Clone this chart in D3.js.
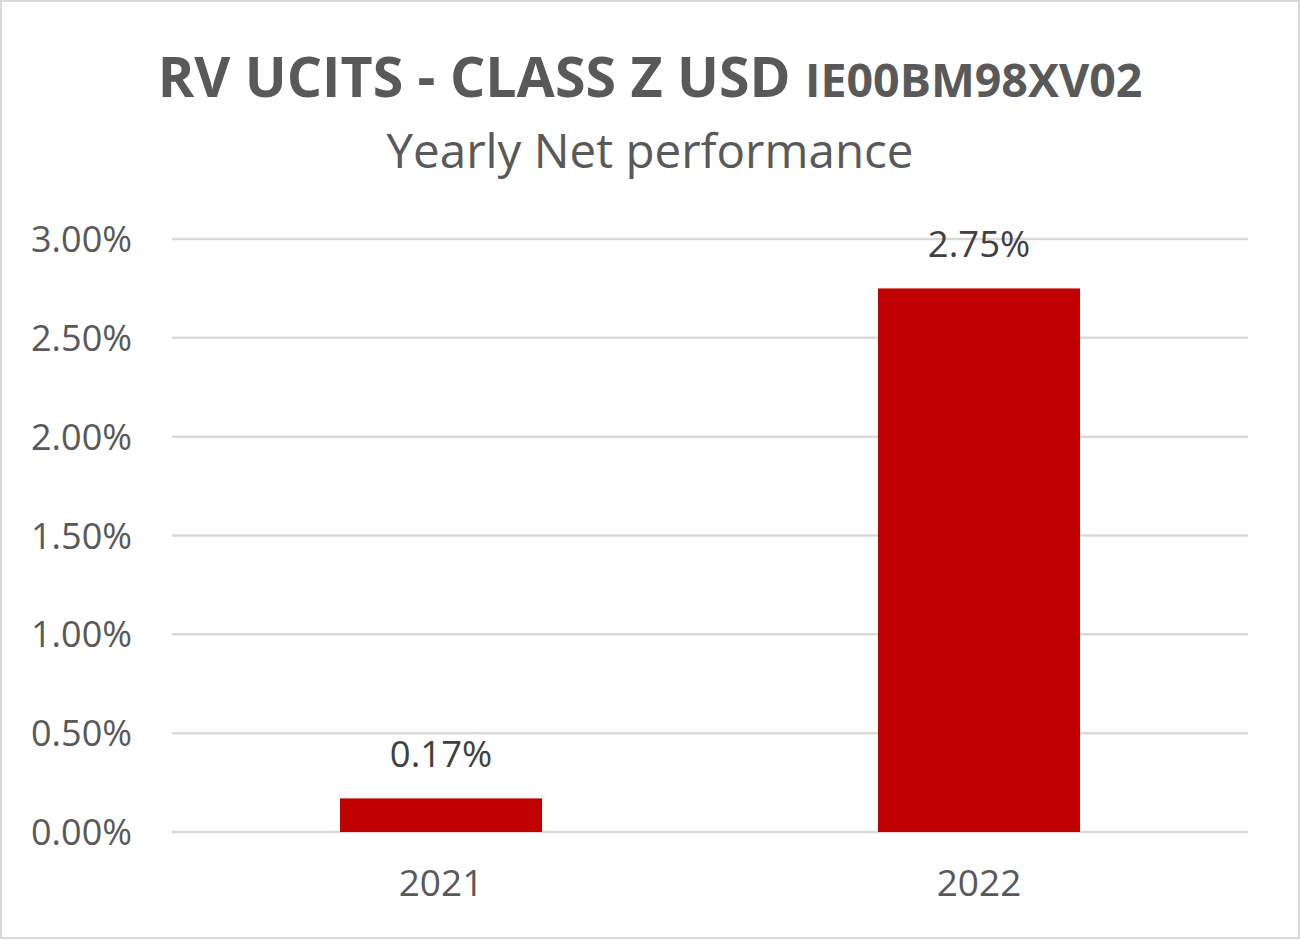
<!DOCTYPE html>
<html><head><meta charset="utf-8">
<script src="https://cdn.jsdelivr.net/npm/d3@7"></script>
<style>html,body{margin:0;padding:0;background:#fff;}</style>
</head><body>
<script>
const categories = ["2021", "2022"];
const values = [0.0017, 0.0275];
const yTicks = [0, 0.005, 0.01, 0.015, 0.02, 0.025, 0.03];
const titleMain = "RV UCITS - CLASS Z USD";
const titleCode = "IE00BM98XV02";
const subtitle = "Yearly Net performance";

(function () {
const W = 1300, H = 940;
const font = "'Open Sans', sans-serif";
const svg = d3.select("body").append("svg").attr("width", W).attr("height", H);
svg.append("rect").attr("x", 1).attr("y", 1).attr("width", W - 2).attr("height", H - 3)
  .attr("fill", "#fff").attr("stroke", "#d9d9d9").attr("stroke-width", 2);

const pl = 172, pr = 1248, pt = 239, pb = 832;
const x = d3.scaleBand().domain(categories).range([pl, pr]).paddingInner(0.6245).paddingOuter(0.31225);
const y = d3.scaleLinear().domain([0, 0.03]).range([pb, pt]);

// title
const t = svg.append("text").attr("x", W / 2).attr("y", 97).attr("text-anchor", "middle")
  .attr("font-family", font).attr("font-weight", "bold").attr("fill", "#595959");
t.append("tspan").attr("font-size", 55.5).text(titleMain + " ");
t.append("tspan").attr("font-size", 46.5).text(titleCode);
svg.append("text").attr("x", W / 2).attr("y", 168).attr("text-anchor", "middle")
  .attr("font-family", font).attr("font-size", 47.5).attr("fill", "#595959").text(subtitle);

// gridlines
svg.append("g").selectAll("line").data(yTicks).join("line")
  .attr("x1", pl).attr("x2", pr).attr("y1", d => y(d)).attr("y2", d => y(d))
  .attr("stroke", "#d9d9d9").attr("stroke-width", 2.5);

// y axis labels
const yAxis = d3.axisLeft(y).tickValues(yTicks).tickFormat(d3.format(".2%")).tickSize(0).tickPadding(40);
const gy = svg.append("g").attr("transform", `translate(${pl},0)`).call(yAxis);
gy.select(".domain").remove();
gy.selectAll("text").attr("font-family", font).attr("font-size", 36).attr("fill", "#595959").attr("dy", "0.35em");

// bars
svg.append("g").selectAll("rect").data(values).join("rect")
  .attr("x", (d, i) => x(categories[i])).attr("width", x.bandwidth())
  .attr("y", d => y(d)).attr("height", d => y(0) - y(d)).attr("fill", "#c00000");

// data labels
svg.append("g").selectAll("text").data(values).join("text")
  .attr("x", (d, i) => x(categories[i]) + x.bandwidth() / 2).attr("y", d => y(d) - 31)
  .attr("text-anchor", "middle").attr("font-family", font).attr("font-size", 36.5).attr("fill", "#404040")
  .text(d => d3.format(".2%")(d));

// x axis labels
const xAxis = d3.axisBottom(x).tickSize(0).tickPadding(38);
const gx = svg.append("g").attr("transform", `translate(0,${pb})`).call(xAxis);
gx.select(".domain").remove();
gx.selectAll("text").attr("font-family", font).attr("font-size", 37).attr("fill", "#595959");
})();
</script>
</body></html>
